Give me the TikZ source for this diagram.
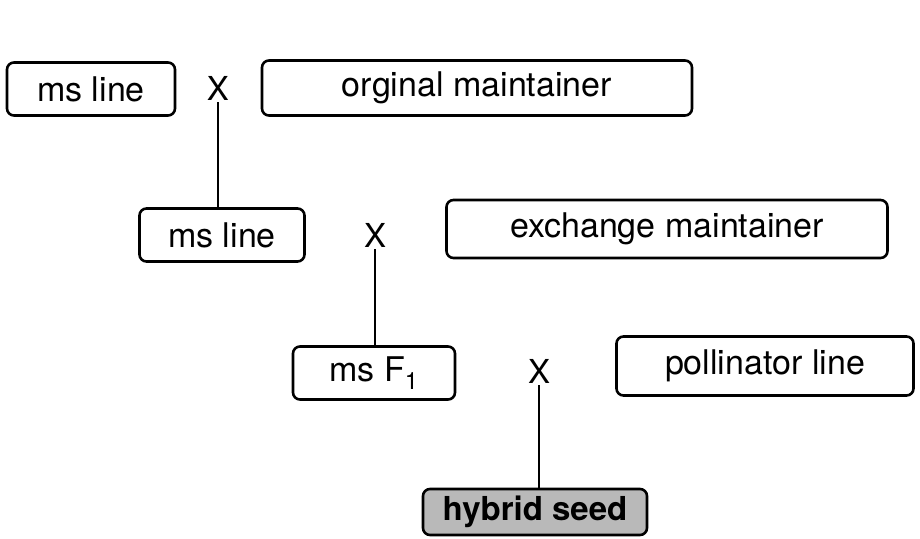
\documentclass[tikz,border=0pt]{standalone}
\usepackage{fontspec}
\setmainfont{TeX Gyre Heros}
\usetikzlibrary{positioning}

\begin{document}
\begin{tikzpicture}[x=1pt,y=-1pt,
                    line width=2.4pt,
                    box/.style={draw,rounded corners=7pt,line width=2.6pt,inner sep=0pt,
                                font=\fontsize{34}{40}\selectfont},
                    cross/.style={inner sep=1pt,font=\fontsize{33}{38}\selectfont},
                    seed/.style={box,fill=gray!55,font=\fontsize{33}{38}\selectfont\bfseries}
                   ]
   \useasboundingbox (0,0) rectangle (920,538);
   % first cross
   \node[box,minimum width=168pt,minimum height=53pt] (ml1) at (91,89) {ms line};
   \node[cross] (x1) at (218,88) {X};
   \node[box,minimum width=430pt,minimum height=55pt] (om) at (477,88) {orginal maintainer};
   % second cross
   \node[box,minimum width=165pt,minimum height=53pt] (ml2) at (222,235) {ms line};
   \node[cross] (x2) at (375,235) {X};
   \node[box,minimum width=441pt,minimum height=58pt] (em) at (667,229) {exchange maintainer};
   % third cross
   \node[box,minimum width=162pt,minimum height=53pt] (mf1) at (374,373) {ms F\textsubscript{1}};
   \node[cross] (x3) at (539,371) {X};
   \node[box,minimum width=297pt,minimum height=59pt] (pl) at (765,366) {pollinator line};
   \node[seed,minimum width=224pt,minimum height=46pt] (hs) at (535,512) {hybrid seed};
   \path%
     (x1.south) edge (x1.south |- ml2.north)
     (x2.south) edge (x2.south |- mf1.north)
     (x3.south) edge (x3.south |- hs.north);
\end{tikzpicture}
\end{document}
